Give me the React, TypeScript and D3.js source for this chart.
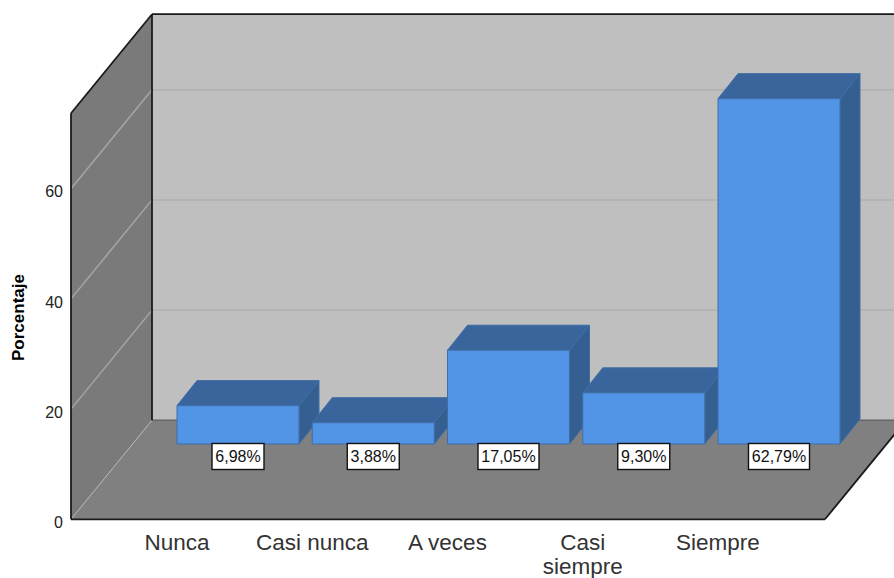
import React from "react";
import * as d3 from "d3";

const categories = [["Nunca"], ["Casi nunca"], ["A veces"], ["Casi", "siempre"], ["Siempre"]];
const percentages = [6.98, 3.88, 17.05, 9.3, 62.79];
const valueLabels = ["6,98%", "3,88%", "17,05%", "9,30%", "62,79%"];
const labelWidths = [52, 52, 61, 52, 61];
const yTicks = [0, 20, 40, 60];
const yMax = 73.7;

const W = 894;
const H = 578;
const FONT = "'Liberation Sans', Arial, sans-serif";

// Oblique projection of the box: the back wall is shifted from the front plane
const wall = { dx: 81, dy: 99 };
const barDepth = { dx: 20, dy: 25 };
const front = { left: 71, right: 825, base: 519.3 };
const barBase = 444;

const yFront = d3.scaleLinear().domain([0, yMax]).range([front.base, front.base - yMax * 5.51]);
const barHeight = d3.scaleLinear().domain([0, 100]).range([0, 550]);
const xBand = d3
  .scaleBand<number>()
  .domain(d3.range(categories.length))
  .range([177, 840])
  .paddingInner(0.098);

const pts = (p: [number, number][]) => p.map((q) => q.join(",")).join(" ");

export default function App() {
  const top = yFront(yMax);
  const backLeft = front.left + wall.dx;
  const backRight = front.right + wall.dx;
  const backBase = front.base - wall.dy;
  const backTop = top - wall.dy;
  const bw = xBand.bandwidth();

  return (
    <svg
      width={W}
      height={H}
      viewBox={`0 0 ${W} ${H}`}
      style={{ position: "fixed", left: 0, top: 0, background: "#fff" }}
      fontFamily={FONT}
    >
      {/* back wall */}
      <rect x={backLeft} y={backTop} width={W - backLeft} height={backBase - backTop} fill="#bfbfbf" />
      {/* side wall */}
      <polygon
        points={pts([
          [front.left, top],
          [backLeft, backTop],
          [backLeft, backBase],
          [front.left, front.base],
        ])}
        fill="#7a7a7a"
      />
      {/* floor */}
      <polygon
        points={pts([
          [front.left, front.base],
          [backLeft, backBase],
          [backRight, backBase],
          [front.right, front.base],
        ])}
        fill="#808080"
      />
      <line x1={backLeft} x2={W} y1={backBase} y2={backBase} stroke="#666" strokeWidth={1.5} />

      {/* gridlines on both walls */}
      {yTicks.map((t) => {
        const y = yFront(t);
        return (
          <g key={t}>
            {t > 0 && <line x1={backLeft} x2={W} y1={y - wall.dy} y2={y - wall.dy} stroke="#b0b0b0" strokeWidth={1.5} />}
            <line
              x1={front.left}
              y1={y}
              x2={backLeft}
              y2={y - wall.dy}
              stroke={t > 0 ? "#a6a6a6" : "#b4b4b4"}
              strokeWidth={t > 0 ? 1.5 : 1}
            />
          </g>
        );
      })}

      {/* box outline */}
      <g stroke="#1a1a1a" strokeWidth={1.8} fill="none">
        <line x1={backLeft} x2={W} y1={backTop} y2={backTop} />
        <line x1={backLeft} x2={backLeft} y1={backTop} y2={backBase} />
        <line x1={front.left} y1={top} x2={backLeft} y2={backTop} />
        <line x1={front.left} x2={front.left} y1={top} y2={front.base} />
        <line x1={front.left} x2={front.right} y1={front.base} y2={front.base} />
        <line x1={front.right} y1={front.base} x2={backRight} y2={backBase} />
      </g>

      {/* y axis */}
      {yTicks.map((t) => (
        <text key={t} x={63} y={yFront(t) + 3} dy="0.35em" textAnchor="end" fontSize={16} fill="#222">
          {t}
        </text>
      ))}
      <text
        transform="translate(24,317.5) rotate(-90)"
        textAnchor="middle"
        fontSize={17}
        fontWeight="bold"
        fill="#000"
      >
        Porcentaje
      </text>

      {/* bars, painted left to right so each one overlaps its neighbour's side */}
      {percentages.map((v, i) => {
        const x0 = xBand(i)!;
        const x1 = x0 + bw;
        const yTop = barBase - barHeight(v);
        const { dx, dy } = barDepth;
        return (
          <g key={i} stroke="#3f6ea6" strokeWidth={1} strokeLinejoin="round">
            <polygon
              points={pts([
                [x0, yTop],
                [x0 + dx, yTop - dy],
                [x1 + dx, yTop - dy],
                [x1, yTop],
              ])}
              fill="#3a659c"
            />
            <polygon
              points={pts([
                [x1, yTop],
                [x1 + dx, yTop - dy],
                [x1 + dx, barBase - dy],
                [x1, barBase],
              ])}
              fill="#355f91"
            />
            <rect x={x0} y={yTop} width={bw} height={barBase - yTop} fill="#5294e5" />
          </g>
        );
      })}

      {/* value labels */}
      {valueLabels.map((label, i) => {
        const cx = xBand(i)! + bw / 2;
        const w = labelWidths[i];
        return (
          <g key={label}>
            <rect x={cx - w / 2} y={443.5} width={w} height={26} fill="#fff" stroke="#111" strokeWidth={1.4} />
            <text x={cx} y={456.5} dy="0.36em" textAnchor="middle" fontSize={16} fill="#111">
              {label}
            </text>
          </g>
        );
      })}

      {/* category labels */}
      {categories.map((lines, i) => (
        <text key={i} textAnchor="middle" fontSize={22.5} fill="#333">
          {lines.map((line, j) => (
            <tspan key={line} x={xBand(i)!} y={550 + j * 23.5}>
              {line}
            </tspan>
          ))}
        </text>
      ))}
    </svg>
  );
}
